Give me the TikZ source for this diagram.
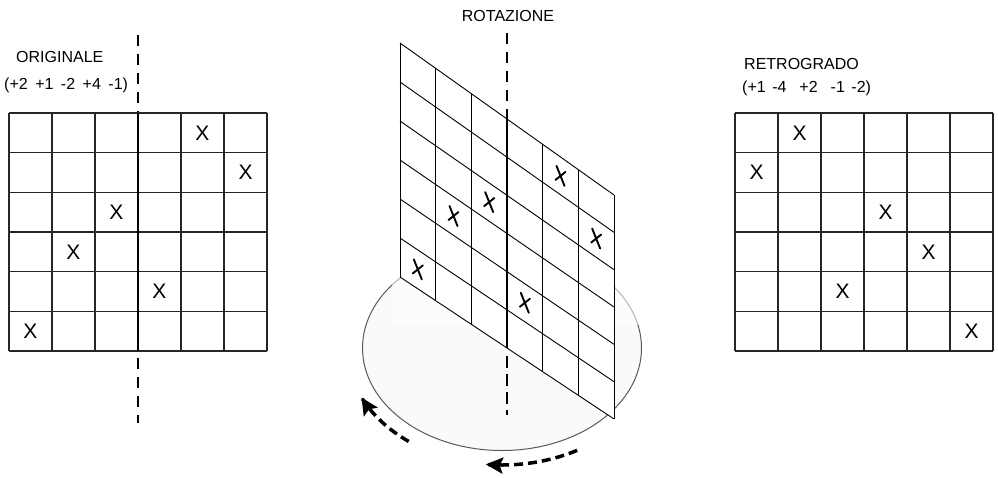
\documentclass[tikz,border=0pt]{standalone}
\usepackage{fontspec}
\setmainfont{Liberation Sans}
\usetikzlibrary{calc,arrows.meta}
\tikzset{
  gridln/.style={line width=1.2pt, black!85},
  skewln/.style={line width=0.9pt, black},
  axisdash/.style={line width=2.2pt, dash pattern=on 11pt off 8pt},
  axissolid/.style={line width=2.2pt},
  lbl/.style={font=\fontsize{16}{16}\selectfont, inner sep=0pt, anchor=west},
  xm/.style={font=\fontsize{21}{21}\selectfont, inner sep=0pt},
  rotarrow/.style={line width=3.5pt, dash pattern=on 9pt off 5pt, -{Stealth[length=17pt,width=16pt,inset=3pt]}},
  hx/.pic={\draw[line width=1.9pt, line cap=round] (-4,-10) -- (4,10) (5,-4) -- (-5,4);}
}
\begin{document}
\begin{tikzpicture}[x=1pt,y=-1pt]
\useasboundingbox (0,0) rectangle (998,477);
\fill[white] (0,0) rectangle (998,477);

% ---------- left: ORIGINALE ----------
\node[lbl] (lt1) at (16,57) {ORIGINALE};
\node[lbl] (lt2) at (4,85) {(+2\hspace{7.5pt}+1\hspace{7.5pt}-2\hspace{7.5pt}+4\hspace{7.5pt}-1)};
\draw[axisdash] (138,35) -- (138,423);
\fill[white] (9,113) rectangle (267,351);
\foreach \i in {0,...,6} {
  \draw[gridln] ({9+43*\i},113) -- ({9+43*\i},351);
  \draw[gridln] (9,{113+39.667*\i}) -- (267,{113+39.667*\i});
}
\draw[axissolid] (138,113) -- (138,351);
\foreach \r/\c [count=\k] in {0/4,1/5,2/2,3/1,4/3,5/0}
  \node[xm] (lx\k) at ({9+43*(\c+0.5)},{113+39.667*(\r+0.5)}) {X};

% ---------- right: RETROGRADO ----------
\node[lbl] (rt1) at (744,64) {RETROGRADO};
\node[lbl] (rt2) at (742,88) {(+1\hspace{6.5pt}-4\hspace{13pt}+2\hspace{13pt}-1\hspace{6.5pt}-2)};
\foreach \i in {0,...,6} {
  \draw[gridln] ({735+43*\i},113) -- ({735+43*\i},351);
  \draw[gridln] (735,{113+39.667*\i}) -- (993,{113+39.667*\i});
}
\foreach \r/\c [count=\k] in {0/1,1/0,2/3,3/4,4/2,5/5}
  \node[xm] (rx\k) at ({735+43*(\c+0.5)},{113+39.667*(\r+0.5)}) {X};

% ---------- middle: ROTAZIONE ----------
\node[font=\fontsize{16}{16}\selectfont, inner sep=0pt] (mt) at (508,16) {ROTAZIONE};
% disc
\draw[fill=gray!4, draw=black!65, line width=1pt] (502,348) ellipse [x radius=139.5, y radius=102.5];
\fill[white, opacity=0.55] (392,235) rectangle (642,325);
% rotation arrows
\draw[rotarrow] plot[domain=61:96, samples=40] ({502+155*cos(\x)},{348+117*sin(\x)});
\draw[rotarrow] plot[domain=127:155, samples=40] ({502+155*cos(\x)},{348+117*sin(\x)});
% axis (upper part)
\draw[axisdash] (507,33) -- (507,120);
% skewed grid
\coordinate (TL) at (400,43);
\coordinate (TR) at (614,195);
\coordinate (BL) at (400,277);
\coordinate (BR) at (614,419);
\fill[white] (TL) -- (TR) -- (BR) -- (BL) -- cycle;
\foreach \i in {0,...,6} {
  \draw[skewln] ($(TL)!\i/6!(BL)$) -- ($(TR)!\i/6!(BR)$);
  \draw[skewln] ($(TL)!\i/6!(TR)$) -- ($(BL)!\i/6!(BR)$);
}
\draw[axissolid] ($(TL)!0.5!(TR)$) -- ($(BL)!0.5!(BR)$);
% axis (lower part)
\draw[line width=2.2pt, dash pattern=on 12pt off 6pt] (507,356) -- (507,415);
\foreach \r/\c in {0/4,1/5,2/2,3/1,4/3,5/0} {
  \pgfmathsetmacro{\uu}{(\c+0.5)/6}
  \pgfmathsetmacro{\vv}{(\r+0.5)/6}
  \pic at ({400+214*\uu},{(43+234*\vv)*(1-\uu)+(195+224*\vv)*\uu}) {hx};
}
\end{tikzpicture}
\end{document}
